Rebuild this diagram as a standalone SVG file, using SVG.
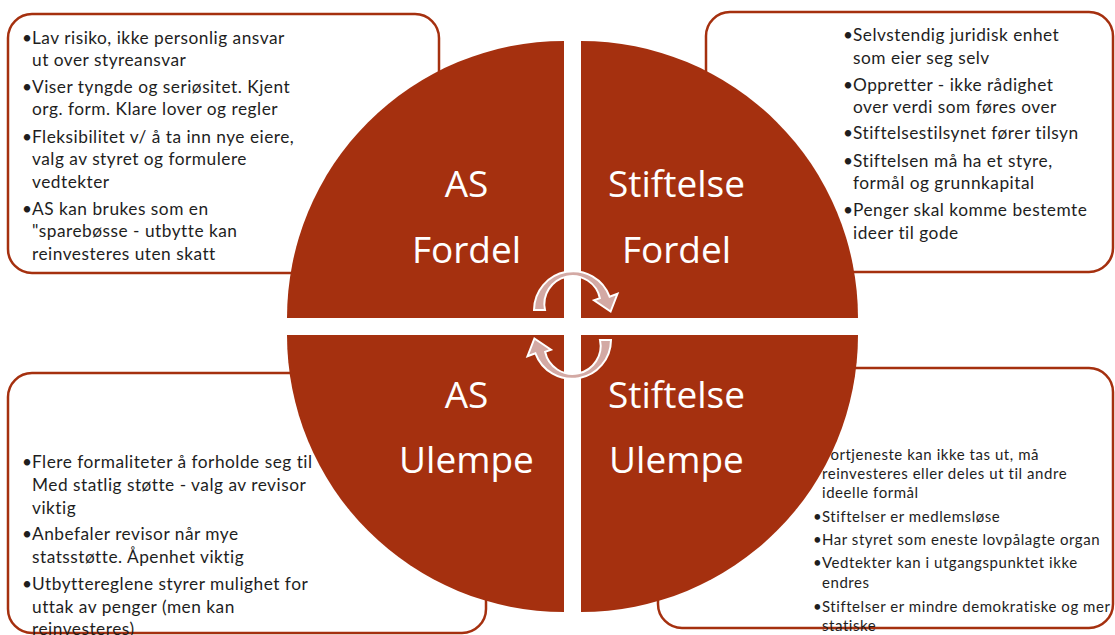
<svg xmlns="http://www.w3.org/2000/svg" width="1115" height="635" viewBox="0 0 1115 635">
<style>
.box{fill:#fff;stroke:#A5300F;stroke-width:2.5}
.q{fill:#A5300F}
.t{font-family:Lato,"Noto Sans",sans-serif;font-size:17.3px;letter-spacing:0.5px;fill:#1e1e1e}
.s{font-family:Lato,"Noto Sans",sans-serif;font-size:15px;letter-spacing:0.55px;fill:#1e1e1e}
.big{font-family:"Open Sans","Liberation Sans",sans-serif;font-size:37px;fill:#fff;text-anchor:middle}
.arr{fill:#D3A9A4;stroke:#fff;stroke-width:2;stroke-linejoin:miter}
</style>
<rect width="1115" height="635" fill="#fff"/>
<g id="box-as-fordel">
<rect class="box" x="8" y="14" width="431" height="259" rx="24"/>
<text class="t"><tspan x="22" y="44">•</tspan><tspan x="32" y="44">Lav risiko, ikke personlig ansvar</tspan><tspan x="32" y="66">ut over styreansvar</tspan><tspan x="22" y="93">•</tspan><tspan x="32" y="93">Viser tyngde og seriøsitet. Kjent</tspan><tspan x="32" y="115">org. form. Klare lover og regler</tspan><tspan x="22" y="143">•</tspan><tspan x="32" y="143">Fleksibilitet v/ å ta inn nye eiere,</tspan><tspan x="32" y="165">valg av styret og formulere</tspan><tspan x="32" y="188">vedtekter</tspan><tspan x="22" y="215">•</tspan><tspan x="32" y="215">AS kan brukes som en</tspan><tspan x="32" y="237">"sparebøsse - utbytte kan</tspan><tspan x="32" y="260">reinvesteres uten skatt</tspan></text>
</g>
<g id="box-stiftelse-fordel">
<rect class="box" x="706" y="12" width="407" height="260" rx="24"/>
<text class="t"><tspan x="843" y="41">•</tspan><tspan x="853" y="41">Selvstendig juridisk enhet</tspan><tspan x="853" y="64">som eier seg selv</tspan><tspan x="843" y="91">•</tspan><tspan x="853" y="91">Oppretter - ikke  rådighet</tspan><tspan x="853" y="113">over verdi som føres over</tspan><tspan x="843" y="139">•</tspan><tspan x="853" y="139">Stiftelsestilsynet fører tilsyn</tspan><tspan x="843" y="167">•</tspan><tspan x="853" y="167">Stiftelsen må ha et styre,</tspan><tspan x="853" y="189">formål og grunnkapital</tspan><tspan x="843" y="216">•</tspan><tspan x="853" y="216">Penger skal komme bestemte</tspan><tspan x="853" y="239">ideer til gode</tspan></text>
</g>
<g id="box-as-ulempe">
<rect class="box" x="8" y="373" width="478" height="260" rx="24"/>
<text class="t"><tspan x="22" y="468">•</tspan><tspan x="32" y="468">Flere formaliteter å forholde seg til</tspan><tspan x="32" y="491">Med statlig støtte - valg av revisor</tspan><tspan x="32" y="514">viktig</tspan><tspan x="22" y="540">•</tspan><tspan x="32" y="540">Anbefaler revisor når mye</tspan><tspan x="32" y="563">statsstøtte. Åpenhet viktig</tspan><tspan x="22" y="590">•</tspan><tspan x="32" y="590">Utbyttereglene styrer mulighet for</tspan><tspan x="32" y="613">uttak av penger (men kan</tspan><tspan x="32" y="635">reinvesteres)</tspan></text>
</g>
<g id="box-stiftelse-ulempe">
<rect class="box" x="658" y="368" width="455" height="260" rx="24"/>
<text class="s"><tspan x="813" y="460">•</tspan><tspan x="822" y="460">Fortjeneste kan ikke tas ut, må</tspan><tspan x="822" y="479">reinvesteres eller deles ut til andre</tspan><tspan x="822" y="498">ideelle formål</tspan><tspan x="813" y="522">•</tspan><tspan x="822" y="522">Stiftelser er medlemsløse</tspan><tspan x="813" y="545">•</tspan><tspan x="822" y="545">Har styret som eneste lovpålagte organ</tspan><tspan x="813" y="568">•</tspan><tspan x="822" y="568">Vedtekter kan i utgangspunktet ikke</tspan><tspan x="822" y="588">endres</tspan><tspan x="813" y="612">•</tspan><tspan x="822" y="612">Stiftelser er mindre demokratiske og mer</tspan><tspan x="822" y="631">statiske</tspan></text>
</g>
<g id="q-as-fordel">
<path class="q" d="M564,318 L287,318 A277,277 0 0 1 564,41 Z"/>
<text class="big"><tspan x="466.5" y="197">AS</tspan><tspan x="466.5" y="263">Fordel</tspan></text>
</g>
<g id="q-stiftelse-fordel">
<path class="q" d="M581,318 L581,41 A277,277 0 0 1 858,318 Z"/>
<text class="big"><tspan x="676.5" y="197">Stiftelse</tspan><tspan x="676.5" y="263">Fordel</tspan></text>
</g>
<g id="q-as-ulempe">
<path class="q" d="M564,335 L564,612 A277,277 0 0 1 287,335 Z"/>
<text class="big"><tspan x="466.5" y="408">AS</tspan><tspan x="466.5" y="473">Ulempe</tspan></text>
</g>
<g id="q-stiftelse-ulempe">
<path class="q" d="M581,335 L858,335 A277,277 0 0 1 581,612 Z"/>
<text class="big"><tspan x="676.5" y="408">Stiftelse</tspan><tspan x="676.5" y="473">Ulempe</tspan></text>
</g>
<g id="connectors">
<defs>
<path id="carrow" d="M534,310 A39,39 0 0 1 609.6,296.7 L617.5,293.8 L610.6,311.5 L594.0,300.3 L599.9,298.2 A28,28 0 0 0 545,310 Z"/>
</defs>
<use href="#carrow" class="arr"/>
<use href="#carrow" class="arr" transform="rotate(180 572.5 325)"/>
</g>
</svg>
